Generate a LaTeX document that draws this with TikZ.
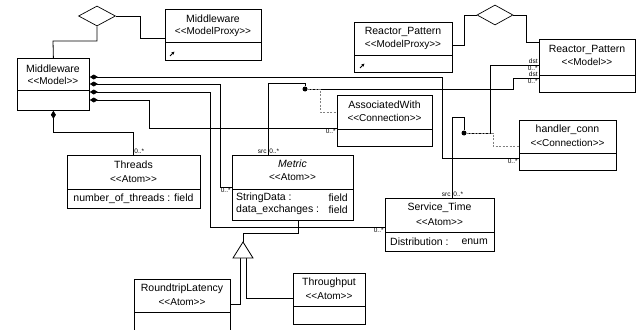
\documentclass[tikz,border=0pt]{standalone}
\usepackage{fontspec}
\setmainfont{Liberation Sans}
\usetikzlibrary{arrows.meta,shapes.geometric}
\newcommand{\stype}[1]{<{}<#1>{}>}

\begin{document}
\begin{tikzpicture}[x=1pt,y=-1pt]

    \tikzset{umlbox/.style={draw,rectangle,anchor=north west,inner sep=0pt,line width=0.8pt},
             ttl/.style={font=\fontsize{10.5}{12}\selectfont,inner sep=0pt},
             stp/.style={font=\fontsize{10}{12}\selectfont,inner sep=0pt},
             attr/.style={font=\fontsize{10.5}{12}\selectfont,inner sep=0pt},
             mult/.style={font=\fontsize{6.5}{7}\selectfont,inner sep=1pt},
             comp/.style={{Diamond[length=8pt,width=5pt]}-,line width=0.8pt},
             conn/.style={line width=0.8pt},
             dashln/.style={dashed,dash pattern=on 2pt off 1.5pt,line width=0.9pt,gray},
             dotn/.style={circle,fill,inner sep=0pt,minimum size=5pt},
             aggr/.style={draw,diamond,inner sep=0pt,line width=0.7pt}}

    \fill[white] (0,0) rectangle (636,329);
    \useasboundingbox (0,0) rectangle (636,329);

    % boxes
    \node[umlbox,minimum width=72,minimum height=52] (mw) at (17,58) {};
    \node[ttl] (mwT) at (53,69) {Middleware};
    \node[stp] (mwS) at (53,81) {\stype{Model}};
    \draw (mw.west |- 0,90) -- (mw.east |- 0,90);

    \node[umlbox,minimum width=96,minimum height=51] (mwp) at (165,9) {};
    \node[ttl] (mwpT) at (213,19) {Middleware};
    \node[stp] (mwpS) at (213,32) {\stype{ModelProxy}};
    \draw (mwp.west |- 0,42) -- (mwp.east |- 0,42);

    \node[umlbox,minimum width=98,minimum height=50] (rpp) at (354,22) {};
    \node[ttl] (rppT) at (403,32) {Reactor\_Pattern};
    \node[stp] (rppS) at (403,45) {\stype{ModelProxy}};
    \draw (rpp.west |- 0,55) -- (rpp.east |- 0,55);

    \node[umlbox,minimum width=96,minimum height=53] (rpm) at (539,39) {};
    \node[ttl] (rpmT) at (587,50) {Reactor\_Pattern};
    \node[stp] (rpmS) at (587,62) {\stype{Model}};
    \draw (rpm.west |- 0,75) -- (rpm.east |- 0,75);

    \node[umlbox,minimum width=95,minimum height=51] (asw) at (337,95) {};
    \node[ttl] (aswT) at (384.5,105) {AssociatedWith};
    \node[stp] (aswS) at (384.5,118) {\stype{Connection}};
    \draw (asw.west |- 0,129) -- (asw.east |- 0,129);

    \node[umlbox,minimum width=97,minimum height=50] (hc) at (519,120) {};
    \node[ttl] (hcT) at (567.5,130) {handler\_conn};
    \node[stp] (hcS) at (567.5,143) {\stype{Connection}};
    \draw (hc.west |- 0,153) -- (hc.east |- 0,153);

    \node[umlbox,minimum width=133,minimum height=53] (thr) at (67,155) {};
    \node[ttl] (thrT) at (133.5,165) {Threads};
    \node[stp] (thrS) at (133.5,179) {\stype{Atom}};
    \draw (thr.west |- 0,189) -- (thr.east |- 0,189);
    \node[attr] (thrA) at (133.5,199) {number\_of\_threads : field};

    \node[umlbox,minimum width=121,minimum height=65] (met) at (232,155) {};
    \node[ttl] (metT) at (292.5,164) {\textit{Metric}};
    \node[stp] (metS) at (292.5,177) {\stype{Atom}};
    \draw (met.west |- 0,189) -- (met.east |- 0,189);
    \node[attr,anchor=west] (metA1) at (236,198) {StringData :};
    \node[attr,anchor=east] (metB1) at (348,198) {field};
    \node[attr,anchor=west] (metA2) at (236,210) {data\_exchanges :};
    \node[attr,anchor=east] (metB2) at (348,210) {field};

    \node[umlbox,minimum width=109,minimum height=53] (st) at (385,198) {};
    \node[ttl] (stT) at (439.5,208) {Service\_Time};
    \node[stp] (stS) at (439.5,222) {\stype{Atom}};
    \draw (st.west |- 0,232) -- (st.east |- 0,232);
    \node[attr,anchor=west] (stA) at (390,241.5) {Distribution :};
    \node[attr,anchor=east] (stB) at (488,241.5) {enum};

    \node[umlbox,minimum width=96,minimum height=52] (rl) at (134,279) {};
    \node[ttl] (rlT) at (182,289) {RoundtripLatency};
    \node[stp] (rlS) at (182,302) {\stype{Atom}};
    \draw (rl.west |- 0,312) -- (rl.east |- 0,312);

    \node[umlbox,minimum width=72,minimum height=51] (tp) at (293,273) {};
    \node[ttl] (tpT) at (329,283) {Throughput};
    \node[stp] (tpS) at (329,296) {\stype{Atom}};
    \draw (tp.west |- 0,306) -- (tp.east |- 0,306);

    % proxy marks
    \draw[-{Latex[length=3pt,width=3.5pt]},line width=1pt] (170,56) -- (174.5,51.5);
    \draw[-{Latex[length=3pt,width=3.5pt]},line width=1pt] (360,68) -- (364.5,63.5);

    % aggregation diamonds
    \node[aggr,minimum width=37,minimum height=20] (ag1) at (97,16) {};
    \node[aggr,minimum width=36,minimum height=20] (ag2) at (495,15) {};
    \draw[conn] (ag1.south) |- (53,41) -- (mw.north);
    \draw[conn] (ag1.east) -| (140,38) -- (mwp.west |- 0,38);
    \draw[conn] (ag2.west) -| (464,45) -- (rpp.east |- 0,45);
    \draw[conn] (ag2.east) -| (526,42) -- (rpm.west |- 0,42);

    % containment
    \draw[comp] (mw.east |- 0,77) -| (442,158) -- (hc.west |- 0,158) node[mult,pos=1,anchor=north east] {0..*};
    \draw[comp] (mw.east |- 0,84) -| (220,187) -- (met.west |- 0,187) node[mult,pos=1,anchor=north east] {0..*};
    \draw[comp] (mw.east |- 0,92) -| (210,227) -- (st.west |- 0,227) node[mult,pos=1,anchor=north east] {0..*};
    \draw[comp] (mw.east |- 0,100) -| (149,128) -- (asw.west |- 0,128) node[mult,pos=1,anchor=north east] {0..*};
    \draw[comp] (mw.south) |- (133,132) -- (thr.north -| 133,0) node[mult,pos=1,anchor=south west] {0..*};

    % connections
    \node[dotn] (adot) at (305,89) {};
    \draw[conn] (met.north -| 268,0) node[mult,anchor=south east] {src} node[mult,anchor=south west] {0..*} |- (305,83) -- (adot);
    \draw[conn] (adot) -| (513,78) -- (rpm.west |- 0,78) node[mult,pos=1,anchor=south east] {dst} node[mult,pos=1,anchor=north east] {0..*};
    \draw[dashln] (adot) -| (320,112) -- (asw.west |- 0,112);

    \node[dotn] (hdot) at (464,133) {};
    \draw[conn] (st.north -| 452,0) node[mult,anchor=south east] {src} node[mult,anchor=south west] {0..*} |- (464,117) -- (hdot);
    \draw[conn] (hdot) -| (490,65) -- (rpm.west |- 0,65) node[mult,pos=1,anchor=south east] {dst} node[mult,pos=1,anchor=north east] {0..*};
    \draw[dashln] (hdot) -| (493,146) -- (hc.west |- 0,146);

    % inheritance
    \coordinate (gapex) at (243,242);
    \coordinate (gbl) at (240,258);
    \coordinate (gbr) at (246,258);
    \draw[conn] (met.south -| 298,0) |- (243,233) -- (gapex);
    \draw[conn] (gbl) |- (rl.east |- 0,304);
    \draw[conn] (gbr) |- (tp.west |- 0,298);
    \draw[conn,fill=white] (gapex) -- ++(-10,16) -- ++(20,0) -- cycle;

\end{tikzpicture}
\end{document}
